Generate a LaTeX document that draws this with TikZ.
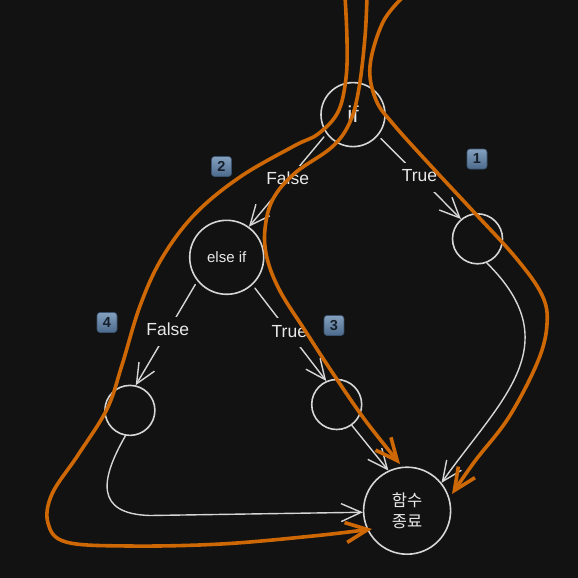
\documentclass[tikz,border=0pt]{standalone}
\usepackage{fontspec}
\setmainfont{Liberation Sans}
\newfontfamily\krfont{Noto Sans CJK KR}
\usetikzlibrary{arrows.meta}
\definecolor{bg}{RGB}{18,18,18}
\definecolor{gline}{RGB}{214,214,214}
\definecolor{gtext}{RGB}{232,232,232}
\definecolor{orng}{RGB}{206,104,4}
\definecolor{btop}{RGB}{132,160,190}
\definecolor{bbot}{RGB}{76,106,140}
\definecolor{bedge}{RGB}{58,82,110}
\definecolor{bnum}{RGB}{22,32,44}
\begin{document}
\begin{tikzpicture}[x=1pt,y=-1pt,
  state/.style={circle, draw=gline, line width=1.6pt, inner sep=0pt, text=gtext},
  edge/.style={draw=gline, line width=1.4pt, line cap=round,
    -{Straight Barb[length=20pt,width=18pt]}},
  lbl/.style={fill=bg, text=gtext, font=\fontsize{17.5}{20}\selectfont,
    inner sep=6pt, text height=13pt, text depth=4pt},
  badge/.style={rounded corners=3pt, minimum size=20pt, inner sep=0pt,
    top color=btop, bottom color=bbot, draw=bedge, line width=0.6pt,
    text=bnum, font=\bfseries\fontsize{14.5}{14.5}\selectfont},
  opath/.style={draw=orng, line width=3.6pt, line cap=round, line join=round,
    -{Straight Barb[length=22pt,width=20pt]}}
]
\fill[bg] (0,0) rectangle (578,578);
\useasboundingbox (0,0) rectangle (578,578);

% nodes
\node[state, minimum size=64pt, font=\fontsize{23}{25}\selectfont] (if) at (353,114.6) {if};
\node[state, minimum size=74pt, font=\fontsize{15}{17}\selectfont] (elseif) at (226.7,257.3) {else if};
\node[state, minimum size=50pt] (rc) at (477.5,238.8) {};
\node[state, minimum size=50pt] (ll) at (129.9,410.4) {};
\node[state, minimum size=50pt] (tc) at (336.7,404.5) {};
\node[state, minimum size=87pt, align=center, font=\krfont\fontsize{16.5}{20.5}\selectfont] (exit) at (407.1,510.7) {함수\\종료};

% badges
\node[badge] (b1) at (477,159) {1};
\node[badge] (b2) at (221.5,166.5) {2};
\node[badge] (b3) at (334,325.5) {3};
\node[badge] (b4) at (107,322.5) {4};

% connectors
\draw[edge, shorten <=4pt] (if.-144) -- node[lbl]{False} (elseif.54);
\draw[edge, shorten <=4pt] (if.-40) -- node[lbl]{True} (rc.130);
\draw[edge, shorten <=4pt] (elseif.-141) -- node[lbl, pos=0.48]{False} (ll.77);
\draw[edge, shorten <=4pt] (elseif.-47) -- node[lbl]{True} (tc.114);
\draw[edge] (tc.-54) -- (exit.115);
\draw[edge] (rc.-69) .. controls (570,345) and (500,400) .. (exit.39);
\draw[edge] (ll.-100) .. controls (100,480) and (95,514) .. (150,515.5) -- (exit.182);

% orange execution paths
\draw[opath] plot[smooth, tension=0.6] coordinates {
  (404,-4) (383,22) (370,66) (376,100) (394,125) (431,166) (472,210)
  (516,258) (542,295) (547,324) (538,361) (509,417) (475,461) (452,494)};
\draw[opath] plot[smooth, tension=0.6] coordinates {
  (367,-4) (365,37) (359,88) (350,122) (332,147) (295,173) (273,199)
  (265,229) (267,258) (280,291) (306,332) (332,372) (365,420) (400,464)};
\draw[opath] plot[smooth, tension=0.6] coordinates {
  (345,-4) (347,40) (346,78) (338,112) (318,134) (294,146) (240,177)
  (195,214) (162,258) (140,306) (122,365) (107,409) (78,455) (52,494)
  (48,523) (66,542) (129,546) (221,544) (313,536) (372,529)};
\end{tikzpicture}
\end{document}
